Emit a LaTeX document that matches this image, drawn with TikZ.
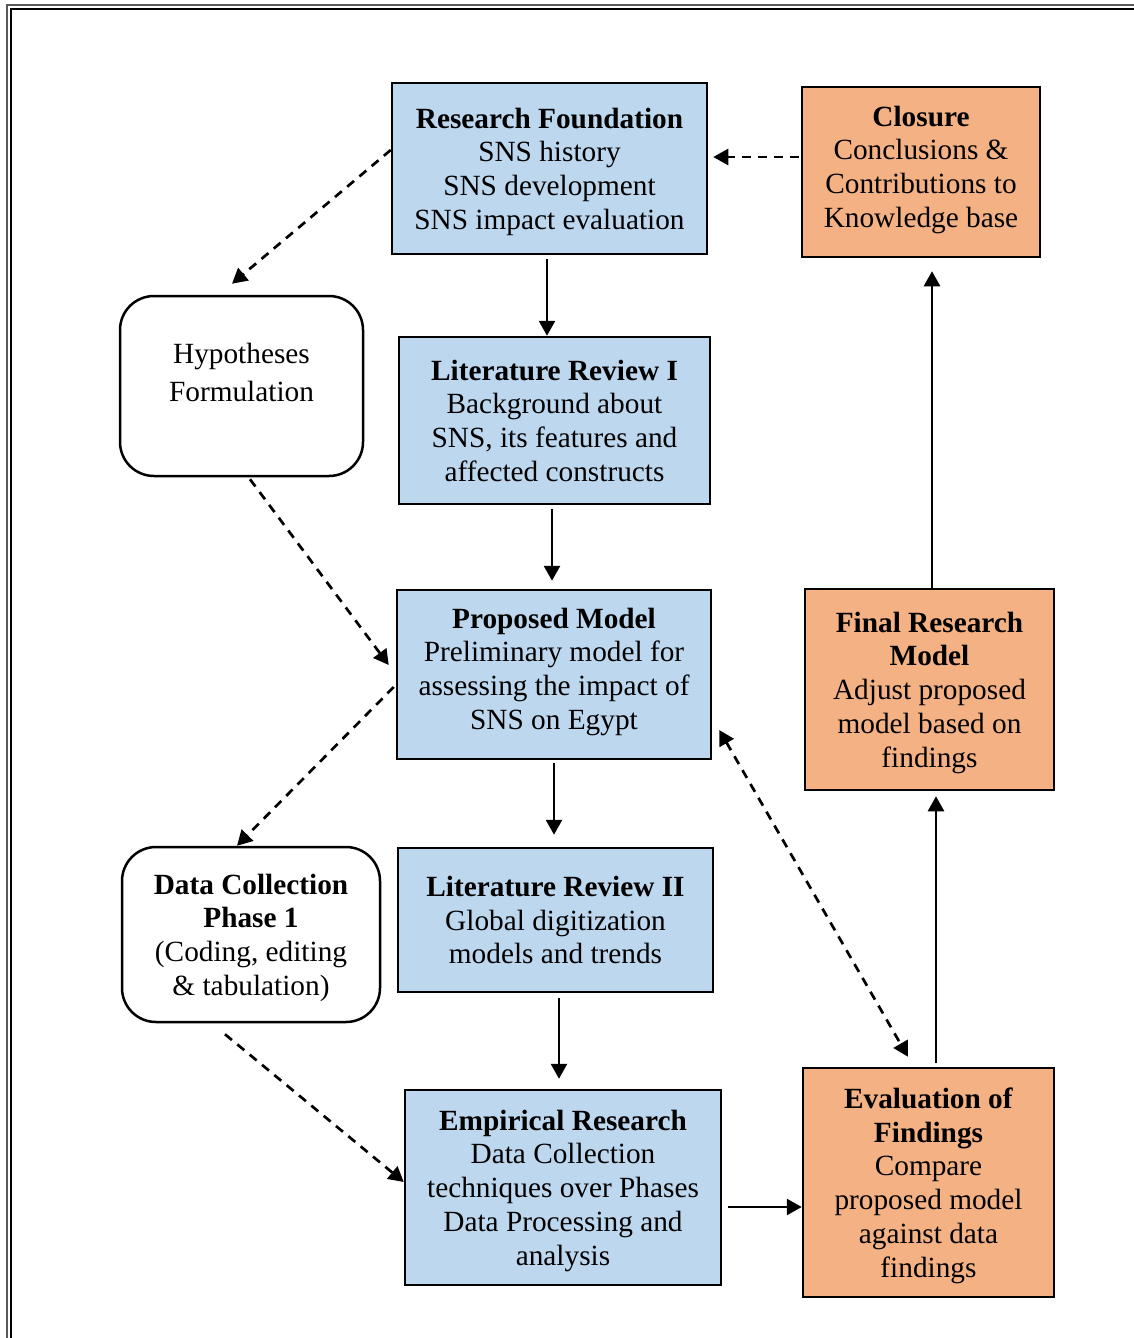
\documentclass[tikz,border=0pt]{standalone}
\usepackage{fontspec}
\setmainfont{Liberation Serif}
\usetikzlibrary{arrows.meta}

\definecolor{stageblue}{RGB}{189,215,238}
\definecolor{stageorange}{RGB}{244,177,131}

\tikzset{
  stage/.style={draw, line width=2.5pt, align=center, inner sep=0pt, text depth=0pt},
  bluestage/.style={stage, fill=stageblue},
  orangestage/.style={stage, fill=stageorange},
  roundstage/.style={stage, fill=white, rounded corners=34pt},
  flow/.style={line width=2.7pt, -{Triangle[length=15pt,width=16pt]}},
  dflow/.style={flow, dash pattern=on 9pt off 7pt},
}

\begin{document}
\begin{tikzpicture}[x=1pt, y=-1pt, font=\fontsize{29.3}{33.7}\selectfont]
  \useasboundingbox (0,0) rectangle (1134,1338);
  % double frame
  \begin{scope}
    \clip (0,0) rectangle (1134,1338);
    \draw[line width=1.5pt, black!65] (7,5) rectangle (1160,1360);
    \draw[line width=2pt] (11,9) rectangle (1160,1360);
  \end{scope}

  % stages
  \node[bluestage, minimum width=315pt, minimum height=171pt] (found) at (549.5,168.5)
    {\textbf{Research Foundation}\\SNS history\\SNS development\\SNS impact evaluation};
  \node[orangestage, minimum width=238pt, minimum height=170pt, text depth=11pt] (closure) at (921,172)
    {\textbf{Closure}\\Conclusions \&\\Contributions to\\Knowledge base};
  \node[roundstage, minimum width=243pt, minimum height=180pt, text depth=28pt,
        font=\fontsize{29.3}{38}\selectfont] (hypo) at (241.5,386)
    {Hypotheses\\Formulation};
  \node[bluestage, minimum width=311pt, minimum height=167pt] (litone) at (554.5,420.5)
    {\textbf{Literature Review I}\\Background about\\SNS, its features and\\affected constructs};
  \node[bluestage, minimum width=314pt, minimum height=169pt, text depth=12pt] (model) at (554,674.5)
    {\textbf{Proposed Model}\\Preliminary model for\\assessing the impact of\\SNS on Egypt};
  \node[orangestage, minimum width=249pt, minimum height=201pt] (final) at (929.5,689.5)
    {\textbf{Final Research}\\\textbf{Model}\\Adjust proposed\\model based on\\findings};
  \node[roundstage, minimum width=258pt, minimum height=175pt] (collect) at (251,934.5)
    {\textbf{Data Collection}\\\textbf{Phase 1}\\(Coding, editing\\\& tabulation)};
  \node[bluestage, minimum width=315pt, minimum height=144pt] (littwo) at (555.5,920)
    {\textbf{Literature Review II}\\Global digitization\\models and trends};
  \node[bluestage, minimum width=316pt, minimum height=195pt] (empir) at (563,1187.5)
    {\textbf{Empirical Research}\\Data Collection\\techniques over Phases\\Data Processing and\\analysis};
  \node[orangestage, minimum width=251pt, minimum height=229pt] (evalf) at (928.5,1182.5)
    {\textbf{Evaluation of}\\\textbf{Findings}\\Compare\\proposed model\\against data\\findings};

  % solid flow
  \draw[flow, shorten <=4pt] ([xshift=-2.5pt]found.south) -- ([xshift=-2.5pt]found.south |- litone.north);
  \draw[flow, shorten <=4pt, shorten >=8pt] ([xshift=-2.5pt]litone.south) -- ([xshift=-2.5pt]litone.south |- model.north);
  \draw[flow, shorten <=3pt, shorten >=12pt] (model.south) -- (model.south |- littwo.north);
  \draw[flow, shorten <=5pt, shorten >=10pt] ([xshift=3.5pt]littwo.south) -- ([xshift=3.5pt]littwo.south |- empir.north);
  \draw[flow, shorten <=6pt] ([yshift=-19.5pt]empir.east) -- ([yshift=-19.5pt]empir.east -| evalf.west);
  \draw[flow, shorten <=4pt, shorten >=5pt] ([xshift=7.5pt]evalf.north) -- ([xshift=7.5pt]evalf.north |- final.south);
  \draw[flow, shorten >=13pt] ([xshift=2.5pt]final.north) -- ([xshift=2.5pt]final.north |- closure.south);

  % dashed flow
  \draw[dflow, shorten <=2pt, shorten >=5pt] ([yshift=15pt]closure.west) -- ([yshift=15pt]closure.west -| found.east);
  \draw[dflow] ([yshift=18.5pt]found.west) -- ([xshift=-9.5pt,yshift=11pt]hypo.north);
  \draw[dflow] ([xshift=8.5pt,yshift=-2pt]hypo.south) -- ([xshift=-7pt,yshift=9.5pt]model.west);
  \draw[dflow] ([xshift=-2pt,yshift=-12.5pt]model.west) -- ([xshift=-14pt]collect.north);
  \draw[dflow] ([xshift=-26pt,yshift=-11pt]collect.south) -- ([yshift=5.5pt]empir.west);
  \draw[dflow, {Triangle[length=15pt,width=16pt]}-{Triangle[length=15pt,width=16pt]}]
    ([xshift=7pt,yshift=-55.5pt]model.east) -- ([xshift=-20.5pt,yshift=10pt]evalf.north);
\end{tikzpicture}
\end{document}
